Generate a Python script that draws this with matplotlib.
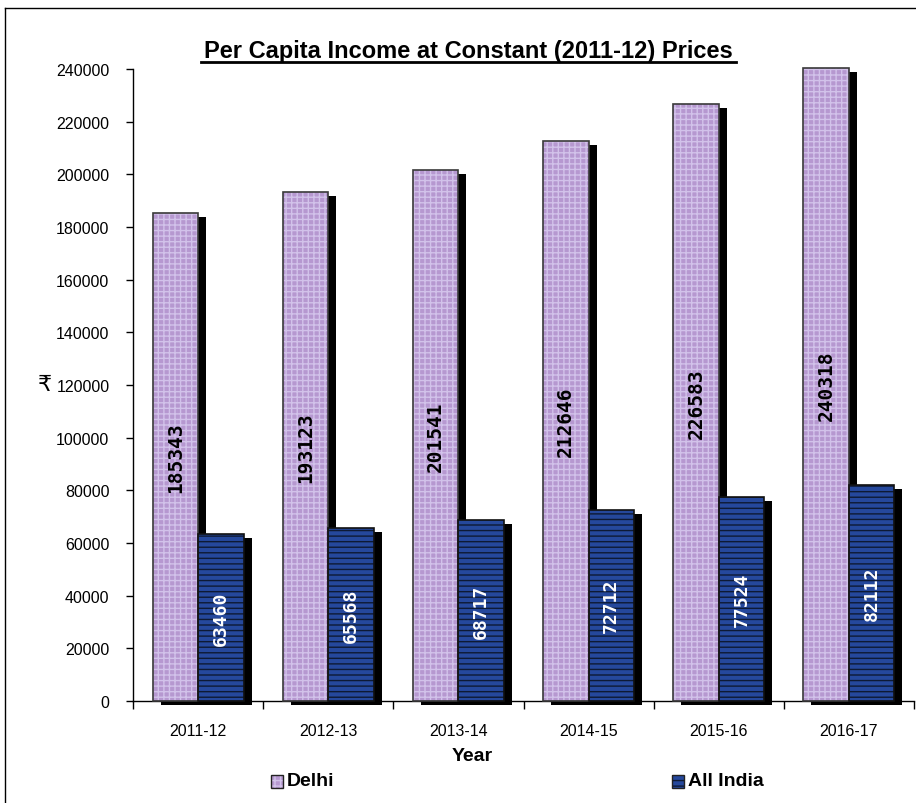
import matplotlib.pyplot as plt
import matplotlib.transforms as mtransforms
from matplotlib.lines import Line2D
from matplotlib.patches import Rectangle
import numpy as np

years = ["2011-12", "2012-13", "2013-14", "2014-15", "2015-16", "2016-17"]
delhi = [185343, 193123, 201541, 212646, 226583, 240318]
all_india = [63460, 65568, 68717, 72712, 77524, 82112]
y_ticks = list(range(0, 240001, 20000))

DELHI_FACE = "#b698d0"
DELHI_HATCH = "#d2c2ea"
INDIA_FACE = "#25489c"
INDIA_HATCH = "#0e1a34"

plt.rcParams["font.family"] = ["Liberation Sans", "DejaVu Sans"]
plt.rcParams["hatch.linewidth"] = 1.0

fig = plt.figure(figsize=(9.16, 8.04), dpi=100)
ax = fig.add_axes([133 / 916, 1 - 702 / 804, 781 / 916, 632 / 804])

x = np.arange(len(years))
w = 0.35

# drop shadow: same bars shifted right/down in pixels
shadow = mtransforms.offset_copy(ax.transData, fig=fig, x=8, y=-4, units="dots")
for off, vals in ((-w / 2, delhi), (w / 2, all_india)):
    ax.bar(x + off, vals, w, color="black", transform=shadow, zorder=1,
           clip_on=False)

ax.bar(x - w / 2, delhi, w, facecolor=DELHI_FACE, edgecolor=DELHI_HATCH,
       hatch="+++", linewidth=0, zorder=2, clip_on=False)
ax.bar(x - w / 2, delhi, w, facecolor="none", edgecolor="#3a3a3a",
       linewidth=1.2, zorder=3, clip_on=False)
ax.bar(x + w / 2, all_india, w, facecolor=INDIA_FACE, edgecolor=INDIA_HATCH,
       hatch="---", linewidth=0, zorder=2, clip_on=False)
ax.bar(x + w / 2, all_india, w, facecolor="none", edgecolor="#111111",
       linewidth=1.2, zorder=3, clip_on=False)

for xi, v in zip(x, delhi):
    ax.text(xi - w / 2, v * 0.5, str(v), rotation=90, ha="center", va="center",
            family="DejaVu Sans Mono", fontsize=14, fontweight="bold",
            color="black", zorder=5)
for xi, v in zip(x, all_india):
    ax.text(xi + w / 2, v * 0.5, str(v), rotation=90, ha="center", va="center",
            family="DejaVu Sans Mono", fontsize=13, fontweight="bold",
            color="white", zorder=5)

ax.set_xlim(-0.5, len(years) - 0.5)
ax.set_ylim(0, 240000)
ax.set_yticks(y_ticks)
ax.set_yticklabels([str(t) for t in y_ticks], fontsize=11.5)
ax.set_xticks(x)
ax.set_xticklabels(years, fontsize=11.5)
ax.set_xticks(np.arange(len(years) + 1) - 0.5, minor=True)
ax.tick_params(axis="x", which="major", length=0, pad=16)
ax.tick_params(axis="x", which="minor", length=6, width=1, direction="out")
ax.tick_params(axis="y", length=5, width=1, direction="out", pad=12)
for s in ("top", "right"):
    ax.spines[s].set_visible(False)
ax.spines["left"].set_linewidth(1)
ax.spines["bottom"].set_linewidth(1)

# title with underline
fig.text(468 / 916, 1 - 58 / 804, "Per Capita Income at Constant (2011-12) Prices",
         ha="center", va="baseline", fontsize=17, fontweight="bold")
fig.add_artist(Line2D([201 / 916, 736 / 916], [1 - 63 / 804, 1 - 63 / 804],
                      color="black", lw=2))

fig.text(45 / 916, 1 - 385 / 804, "₹", ha="center", va="center", fontsize=16,
         family=["DejaVu Sans"])
fig.text(472 / 916, 1 - 757 / 804, "Year", ha="center", va="center",
         fontsize=14, fontweight="bold")

# legend: small hatched squares with bold labels
legend_items = [("Delhi", DELHI_FACE, DELHI_HATCH, "+++", 271),
                ("All India", INDIA_FACE, INDIA_HATCH, "---", 672)]
for label, face, hc, hatch, px in legend_items:
    fig.add_artist(Rectangle((px / 916, 1 - 789 / 804), 12 / 916, 13 / 804,
                             facecolor=face, edgecolor=hc, hatch=hatch,
                             linewidth=0, transform=fig.transFigure))
    fig.add_artist(Rectangle((px / 916, 1 - 789 / 804), 12 / 916, 13 / 804,
                             facecolor="none", edgecolor="#222222", linewidth=1,
                             transform=fig.transFigure))
    fig.text((px + 16) / 916, 1 - 782 / 804, label, ha="left", va="center",
             fontsize=14, fontweight="bold")

# outer frame (top and left edges)
fig.add_artist(Line2D([5 / 916, 1], [1 - 9 / 804, 1 - 9 / 804], color="black", lw=1))
fig.add_artist(Line2D([5 / 916, 5 / 916], [0, 1 - 9 / 804], color="black", lw=1))

fig.savefig("out.png", dpi=100)
